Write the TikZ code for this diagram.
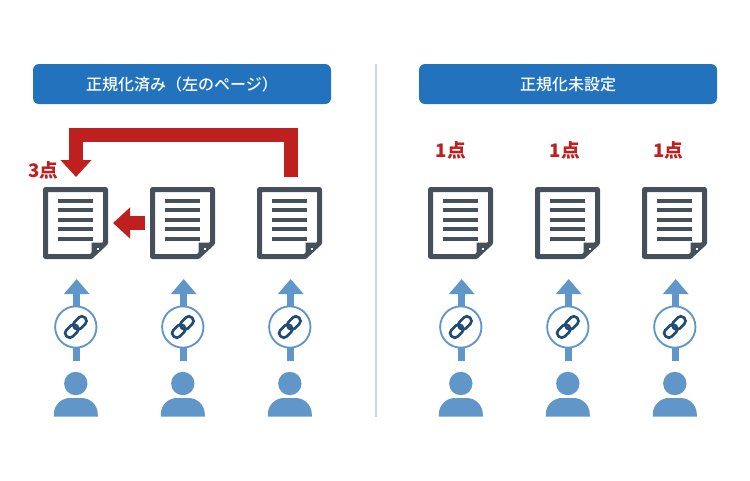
\documentclass[tikz,border=0pt]{standalone}
\usepackage{fontspec}
\usetikzlibrary{arrows.meta}
\newfontfamily\cjkfont{Noto Sans CJK JP}
\newfontfamily\cjkmed{Noto Sans CJK JP Medium}
\definecolor{btnblue}{HTML}{2272BE}
\definecolor{iconblue}{HTML}{6196C9}
\definecolor{alertred}{HTML}{BE2020}
\definecolor{docgray}{HTML}{46505A}
\definecolor{linkdark}{HTML}{1F4B75}
\definecolor{rulegray}{HTML}{C9D8E2}
\tikzset{
	btn/.style={fill=btnblue,rounded corners=4.5pt,minimum width=223.5pt,minimum height=30pt,inner sep=0pt,text=white,font=\cjkmed\fontsize{12}{14}\selectfont},
	pts/.style={inner sep=0pt,text=alertred,font=\cjkfont\bfseries\fontsize{14}{16}\selectfont},
	uparrow/.style={draw=iconblue,line width=5.25pt,-{Triangle[length=11.25pt,width=18.5pt]}},
	redarrow/.style={draw=alertred,line width=10.5pt,miter limit=10,-{Triangle[length=12.75pt,width=22.5pt]}},
	redarrowsmall/.style={draw=alertred,line width=10.5pt,-{Triangle[length=12.75pt,width=22.5pt]}},
	linkring/.style={circle,draw=iconblue,fill=white,line width=1.4pt,minimum size=31pt,inner sep=0pt},
	docline/.style={draw=docgray,line width=3pt},
	pics/docicon/.style={code={
		\draw[docgray,line width=3.75pt,line join=round,fill=white] (2.5,2.5) -- (62.5,2.5) -- (62.5,56) -- (48,69.5) -- (2.5,69.5) -- cycle;
		\foreach \ly in {13.5,23,32.5,42,51.5}
			\draw[docline] (15.3,\ly) -- (49.7,\ly);
		\fill[docgray] (48.5,55.5) -- (64.5,55.5) -- (48.5,71.5) -- cycle;
		\fill[white] (54,60.5) rectangle (56,62.5);
	}},
	pics/linkicon/.style={code={
		\begin{scope}[rotate=45]
			\draw[linkdark,line width=2pt,rounded corners=3pt] (-1.5,-4.5) rectangle (13,4.5);
			\draw[linkdark,line width=2pt,rounded corners=3pt] (-13,-4.5) rectangle (1.5,4.5);
		\end{scope}
	}},
	pics/usericon/.style={code={
		\fill[iconblue] (0,0) circle (11.7);
		\fill[iconblue] (-22,33.2) -- (-22,31) .. controls (-22,21) and (-14,14.5) .. (-6,14.5) -- (6,14.5) .. controls (14,14.5) and (22,21) .. (22,31) -- (22,33.2) -- cycle;
	}},
}
\begin{document}
\begin{tikzpicture}[x=0.75pt,y=-0.75pt]
	\useasboundingbox (0,0) rectangle (750,480);
	\node[btn] (headA) at (182,84) {正規化済み（左のページ）};
	\node[btn] (headB) at (568,84) {正規化未設定};
	\coordinate (ruleA) at (376,64);
	\coordinate (ruleB) at (376,417);
	\draw[rulegray,line width=1.3pt] (ruleA) -- (ruleB);
	% one column per page
	\foreach \nm/\px in {a/76,b/183,c/290,d/461,e/568,f/675}{
		\coordinate (foot\nm) at (\px+0.7,361);
		\coordinate (top\nm) at (\px+0.7,279);
		\draw[uparrow] (foot\nm) -- (top\nm);
		\node[linkring] (ring\nm) at (\px-0.2,327) {};
		\pic at (ring\nm.center) {linkicon};
		\pic at (\px-0.2,383.5) {usericon};
		\pic at (\px-33,187) {docicon};
	}
	\coordinate (srcC) at (291,177);
	\coordinate (bendC) at (291,135);
	\coordinate (bendA) at (76,135);
	\coordinate (dstA) at (76,177);
	\draw[redarrow] (srcC) -- (bendC) -- (bendA) -- (dstA);
	\coordinate (srcB) at (145,223);
	\coordinate (dstB) at (113,223);
	\draw[redarrowsmall] (srcB) -- (dstB);
	\node[pts] (scoreA) at (43.5,170) {3点};
	\node[pts] (scoreD) at (451,150.5) {1点};
	\node[pts] (scoreE) at (565,150.5) {1点};
	\node[pts] (scoreF) at (668.5,150.5) {1点};
\end{tikzpicture}
\end{document}
